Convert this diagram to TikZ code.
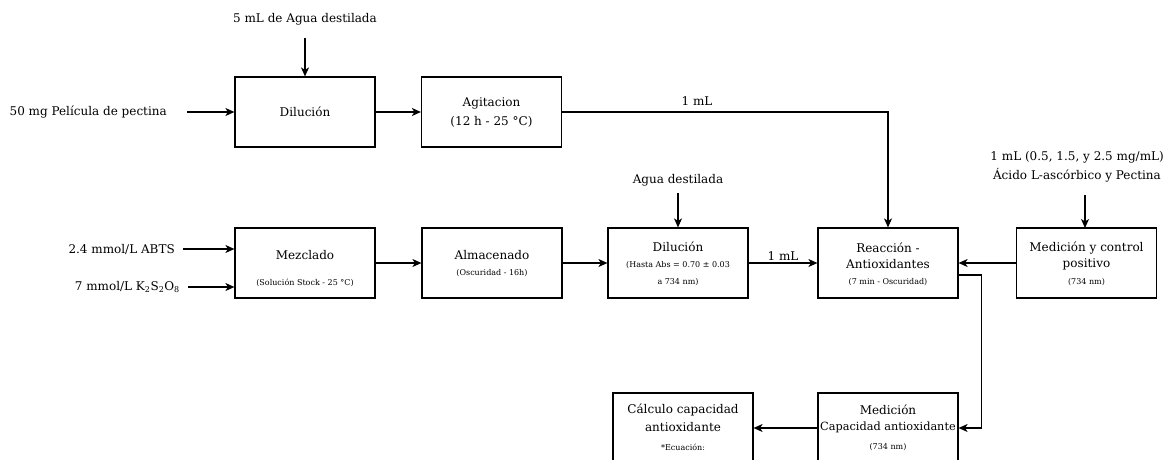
\documentclass[tikz,border=0pt]{standalone}
\usepackage{fontspec}
\setmainfont{DejaVu Serif}
\usetikzlibrary{arrows.meta}
\tikzset{
  stepbox/.style={draw, line width=1.2pt, minimum width=140pt, minimum height=70pt, inner sep=0pt},
  txt/.style={inner sep=1pt, font=\fontsize{12}{14.5}\selectfont, align=center},
  small/.style={inner sep=1pt, font=\fontsize{8}{9.5}\selectfont, align=center},
  flow/.style={line width=1.2pt, -{Stealth[length=9pt,width=8pt,inset=2.5pt]}},
}
\begin{document}
\begin{tikzpicture}[x=1pt, y=-1pt]
\useasboundingbox (0,0) rectangle (1167,460);
\clip (0,0) rectangle (1167,460);

% ---- upper line: sample preparation ----
\node[stepbox] (dil1) at (305,112) {};
\node[txt] (dil1t) at (305,112) {Dilución};
\node[stepbox] (agit) at (491.5,112) {};
\node[txt] (agit1) at (491.5,103) {Agitacion};
\node[txt] (agit2) at (491.5,122) {(12 h - 25 °C)};

\node[txt] (agua5) at (305,19) {5 mL de Agua destilada};
\node[txt, anchor=east] (pel) at (168,112) {50 mg Película de pectina};

\draw[flow] (305,38) -- (dil1.north);
\draw[flow] (pel.east) ++(19,0) -- (dil1.west);
\draw[flow] (dil1.east) -- (agit.west);

% ---- middle line: ABTS radical ----
\node[stepbox] (mez) at (305,263) {};
\node[txt] (mez1) at (305,255) {Mezclado};
\node[small] (mez2) at (305,283) {(Solución Stock - 25 °C)};

\node[stepbox] (alm) at (492,263) {};
\node[txt] (alm1) at (492,255) {Almacenado};
\node[small] (alm2) at (492,273) {(Oscuridad - 16h)};

\node[stepbox] (dil2) at (678,263) {};
\node[txt] (dil21) at (678,247) {Dilución};
\node[small] (dil22) at (678,265) {(Hasta Abs = 0.70 ± 0.03};
\node[small] (dil23) at (678,282) {a 734 nm)};

\node[stepbox] (reac) at (888,263) {};
\node[txt] (reac1) at (888,248) {Reacción -};
\node[txt] (reac2) at (888,264) {Antioxidantes};
\node[small] (reac3) at (888,282) {(7 min - Oscuridad)};

\node[stepbox] (medc) at (1086.5,263) {};
\node[txt] (medc1) at (1086.5,248) {Medición y control};
\node[txt] (medc2) at (1086.5,264) {positivo};
\node[small] (medc3) at (1086.5,282) {(734 nm)};

\node[txt, anchor=east] (abts) at (176,249) {2.4 mmol/L ABTS};
\node[txt, anchor=east] (kps) at (181,287) {7 mmol/L K\textsubscript{2}S\textsubscript{2}O\textsubscript{8}};
\node[txt] (agua) at (678,180) {Agua destilada};
\node[txt, anchor=east] (acid1) at (1165,157) {1 mL (0.5, 1.5, y 2.5 mg/mL)};
\node[txt, anchor=east] (acid2) at (1162,175) {Ácido L-ascórbico y Pectina};

\draw[flow] (abts.east) ++(7,0) -- (mez.west |- abts.east);
\draw[flow] (kps.east) ++(7,0) -- (mez.west |- kps.east);
\draw[flow] (mez.east) -- (alm.west);
\draw[flow] (alm.east) -- (dil2.west);
\draw[flow] (678,193) -- (dil2.north);
\draw[flow] (dil2.east) -- node[txt, above=1pt] (ml2) {1 mL} (reac.west);
\draw[flow] (agit.east) -| (reac.north);
\node[txt] (ml1) at (697,101) {1 mL};
\draw[flow] (1085,195) -- (1085,228);
\draw[flow] (medc.west) -- (reac.east);

% ---- lower line: measurement ----
\node[stepbox] (medcap) at (888,428) {};
\node[txt] (medcap1) at (888,410) {Medición};
\node[txt, font=\fontsize{11.3}{14}\selectfont] (medcap2) at (888,427) {Capacidad antioxidante};
\node[small] (medcap3) at (888,447) {(734 nm)};

\node[stepbox] (calc) at (683,428) {};
\node[txt] (calc1) at (683,410) {Cálculo capacidad};
\node[txt] (calc2) at (683,427) {antioxidante};
\node[small] (calc3) at (683,447) {*Ecuación:};

\draw[flow] ([yshift=-12pt]reac.east) -- ++(23,0) |- (medcap.east);
\draw[flow] (medcap.west) -- (calc.east);
\end{tikzpicture}
\end{document}
